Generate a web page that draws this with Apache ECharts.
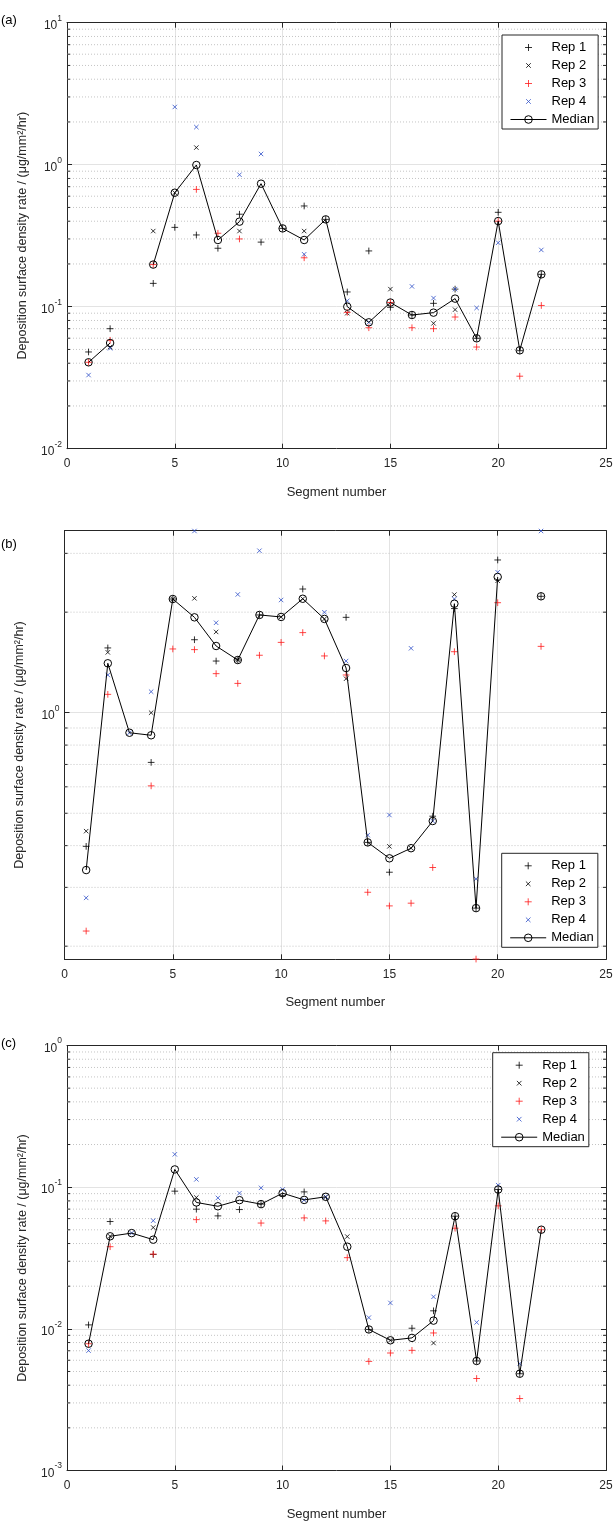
<!DOCTYPE html>
<html><head><meta charset="utf-8">
<script src="https://cdn.jsdelivr.net/npm/echarts@6/dist/echarts.min.js"></script>
<style>html,body{margin:0;padding:0;background:#fff}#c{width:614px;height:1526px}</style>
</head><body><div id="c"></div>
<script>
// ---------------- data ----------------
const segments = [1,2,3,4,5,6,7,8,9,10,11,12,13,14,15,16,17,18,19,20,21,22];
const xTicks = [0,5,10,15,20,25];
const seriesNames = ['Rep 1','Rep 2','Rep 3','Rep 4','Median'];
const panelLabels = ['(a)','(b)','(c)'];
const xAxisTitle = 'Segment number';
const yAxisTitle = 'Deposition surface density rate / (\u03bcg/mm\u00b2/hr)';

// panel (a)
const aRep1 = [0.048,0.070,null,0.146,0.362,0.32,0.258,0.448,0.285,0.356,0.512,0.412,0.127,0.247,0.099,0.0874,0.1056,0.133,0.0599,0.462,0.049,0.169];
const aRep2 = [null,0.052,null,0.341,0.635,1.32,null,0.341,null,null,0.341,null,0.090,null,0.133,null,0.0764,0.0953,null,null,null,null];
const aRep3 = [0.0406,0.058,null,0.198,null,0.67,0.329,0.30,null,null,0.221,null,0.0912,0.0711,0.107,0.0711,0.070,0.0846,0.052,0.40,0.0324,0.102];
const aRep4 = [0.033,0.051,null,null,2.55,1.84,null,0.85,1.19,null,0.234,null,0.110,0.0776,null,0.139,0.115,0.133,0.098,0.282,null,0.251];
const aMedian = [0.0406,0.0555,null,0.198,0.635,0.995,0.295,0.397,0.735,0.356,0.295,0.412,0.100,0.0776,0.107,0.0874,0.0908,0.114,0.0599,0.401,0.0493,0.169];
const aRange = [0.01, 10];

// panel (b)
const bRep1 = [0.398,1.563,null,0.71,2.19,1.654,1.428,1.438,1.962,null,2.346,null,1.93,0.409,0.333,null,0.49,2.05,0.26,2.866,null,2.231];
const bRep2 = [0.442,1.516,null,1.0,2.19,2.2,1.745,1.438,null,1.935,2.194,1.909,1.264,null,0.398,0.393,null,2.257,null,2.484,null,null];
const bRep3 = [0.222,1.135,null,0.604,1.552,1.545,1.309,1.224,1.486,1.624,1.737,1.479,1.297,0.29,0.264,0.269,0.344,1.523,0.183,2.135,null,1.58];
const bRep4 = [0.279,1.297,0.871,1.156,null,3.5,1.859,2.26,3.055,2.175,null,1.999,1.428,0.43,0.494,1.559,0.474,2.19,0.318,2.633,null,3.5];
const bMedian = [0.338,1.406,0.871,0.856,2.19,1.93,1.584,1.438,1.962,1.935,2.194,1.909,1.361,0.409,0.3665,0.393,0.474,2.12,0.26,2.549,null,2.231];
const bRange = [0.1827, 3.507];

// panel (c)
const cRep1 = [0.01066,0.0572,null,0.0335,0.0937,0.0699,0.0627,0.0695,0.0759,0.0871,0.0926,null,null,0.0099,null,0.0101,0.0134,0.0624,0.00593,0.0963,0.00482,null];
const cRep2 = [null,0.045,null,0.0519,null,0.0845,null,null,null,null,null,0.0855,0.0448,null,0.0083,null,0.00794,null,null,null,null,null];
const cRep3 = [0.00785,0.038,null,0.0337,null,0.059,null,null,0.0558,null,0.0607,0.0578,0.0318,0.00589,0.00675,0.00705,0.00935,0.0513,0.00446,0.0738,0.00322,0.0501];
const cRep4 = [0.00702,null,0.0474,0.058,0.1705,0.1135,0.084,0.0907,0.0989,0.0963,0.0813,0.0855,null,0.012,0.01524,null,0.01683,null,0.0111,0.1033,0.00568,null];
const cMedian = [0.00785,0.045,0.0474,0.0426,0.1334,0.078,0.0733,0.081,0.0759,0.0907,0.0813,0.0855,0.038,0.0099,0.0083,0.00863,0.01143,0.0624,0.00593,0.0963,0.00482,0.0501];
const cRange = [0.001, 1];

// ---------------- layout / style ----------------
const FONT = '"Liberation Sans", Arial, Helvetica, sans-serif';
const AX = '#262626';
const panels = [
  {reps:[aRep1,aRep2,aRep3,aRep4], med:aMedian, range:aRange, grid:{left:67, top:22.7, width:539, height:426}, legend:{left:502, top:35}, labelTop:14},
  {reps:[bRep1,bRep2,bRep3,bRep4], med:bMedian, range:bRange, grid:{left:64.5, top:530.7, width:541.5, height:428.6}, legend:{left:501.7, top:853.3}, labelTop:538},
  {reps:[cRep1,cRep2,cRep3,cRep4], med:cMedian, range:cRange, grid:{left:67, top:1045.5, width:539, height:425}, legend:{left:492.7, top:1052.7}, labelTop:1037}
];
const PLUS = 'path://M0,0L0,0M12,12L12,12M2.5,6L9.5,6M6,2.5L6,9.5';
const CROSS = 'path://M0,0L0,0M12,12L12,12M3.7,3.7L8.3,8.3M3.7,8.3L8.3,3.7';
const MEDIAN_ICON = 'path://M0,0L0,0M36,12L36,12M0,6L36,6M14.2,6A3.8,3.8,0,1,1,21.8,6A3.8,3.8,0,1,1,14.2,6';
const repStyles = [
  {symbol:PLUS, color:'#000000'},
  {symbol:CROSS, color:'#000000'},
  {symbol:PLUS, color:'#ff1a1a'},
  {symbol:CROSS, color:'#3050c8'}
];

function minorTicks(lo, hi) {
  const out = [];
  for (let e = Math.floor(Math.log10(lo)); e <= Math.ceil(Math.log10(hi)); e++) {
    for (let k = 2; k <= 9; k++) {
      const v = k * Math.pow(10, e);
      if (v > lo * 1.0001 && v < hi * 0.9999) out.push(v);
    }
  }
  return out;
}
function pairs(arr) { return segments.map((s, i) => [s, arr[i] == null ? null : arr[i]]); }
function scatterPairs(arr) { return segments.map((s, i) => [s, arr[i]]).filter(p => p[1] != null); }
function decadeLabel(v) {
  const l = Math.log10(v);
  const e = Math.round(l);
  if (Math.abs(l - e) > 1e-6) return '';
  return '{b|10}{s|' + e + '}';
}

const option = {
  animation: false,
  backgroundColor: '#fff',
  textStyle: {fontFamily: FONT},
  grid: [], xAxis: [], yAxis: [], series: [], legend: [], graphic: []
};

panels.forEach((p, k) => {
  option.grid.push(Object.assign({outerBoundsMode: 'none', containLabel: false}, p.grid));
  option.xAxis.push({
    type: 'value', gridIndex: k, min: xTicks[0], max: xTicks[xTicks.length - 1], interval: xTicks[1] - xTicks[0],
    position: 'bottom',
    name: xAxisTitle, nameLocation: 'middle', nameGap: 37,
    nameTextStyle: {fontSize: 13, color: AX, fontFamily: FONT},
    axisLine: {show: true, onZero: false, lineStyle: {color: AX, width: 1}},
    axisTick: {show: true, inside: true, length: 5, lineStyle: {color: AX}},
    axisLabel: {show: true, fontSize: 12, color: AX, margin: 9, fontFamily: FONT},
    splitLine: {show: true, lineStyle: {color: '#e3e3e3', width: 1}}
  });
  option.xAxis.push({
    type: 'value', gridIndex: k, min: xTicks[0], max: xTicks[xTicks.length - 1], interval: xTicks[1] - xTicks[0],
    position: 'top',
    axisLine: {show: true, onZero: false, lineStyle: {color: AX, width: 1}},
    axisTick: {show: true, inside: true, length: 5, lineStyle: {color: AX}},
    axisLabel: {show: false}, splitLine: {show: false}
  });
  option.yAxis.push({
    type: 'log', logBase: 10, gridIndex: k, min: p.range[0], max: p.range[1],
    position: 'left',
    name: yAxisTitle, nameLocation: 'middle', nameGap: 38, nameRotate: 90,
    nameTextStyle: {fontSize: 12.5, color: AX, fontFamily: FONT},
    axisLine: {show: true, onZero: false, lineStyle: {color: AX, width: 1}},
    axisTick: {show: true, inside: true, length: 5, lineStyle: {color: AX}},
    axisLabel: {
      show: true, margin: 5, color: AX, formatter: decadeLabel, showMinLabel: true, showMaxLabel: true,
      rich: {
        b: {fontSize: 12, lineHeight: 18, verticalAlign: 'bottom', color: AX, fontFamily: FONT},
        s: {fontSize: 8.5, lineHeight: 10, verticalAlign: 'top', color: AX, fontFamily: FONT}
      }
    },
    splitLine: {show: true, lineStyle: {color: '#e3e3e3', width: 1}}
  });
  option.yAxis.push({
    type: 'log', logBase: 10, gridIndex: k, min: p.range[0], max: p.range[1],
    position: 'right',
    axisLine: {show: true, onZero: false, lineStyle: {color: AX, width: 1}},
    axisTick: {show: true, inside: true, length: 5, lineStyle: {color: AX}},
    axisLabel: {show: false}, splitLine: {show: false}
  });
  const xi = 2 * k, yi = 2 * k;
  option.series.push({
    type: 'custom', xAxisIndex: xi, yAxisIndex: yi, silent: true, z: 1,
    data: minorTicks(p.range[0], p.range[1]).map(v => [xTicks[0], v]),
    renderItem: function (params, api) {
      const cs = params.coordSys;
      const y = api.coord([xTicks[0], api.value(1)])[1];
      return {
        type: 'group',
        children: [
          {type: 'line', shape: {x1: cs.x, y1: y, x2: cs.x + cs.width, y2: y},
           style: {stroke: '#c4c4c4', lineWidth: 1, lineDash: [1, 2]}},
          {type: 'line', shape: {x1: cs.x, y1: y, x2: cs.x + 3, y2: y}, style: {stroke: AX, lineWidth: 1}},
          {type: 'line', shape: {x1: cs.x + cs.width - 3, y1: y, x2: cs.x + cs.width, y2: y}, style: {stroke: AX, lineWidth: 1}}
        ]
      };
    }
  });
  p.reps.forEach((arr, r) => {
    option.series.push({
      type: 'scatter', name: seriesNames[r], xAxisIndex: xi, yAxisIndex: yi, z: 3,
      symbol: repStyles[r].symbol, symbolSize: 11.5,
      itemStyle: {color: 'none', borderColor: repStyles[r].color, borderWidth: 1},
      emphasis: {disabled: true},
      data: scatterPairs(arr)
    });
  });
  option.series.push({
    type: 'line', name: seriesNames[4], xAxisIndex: xi, yAxisIndex: yi, z: 4,
    symbol: 'circle', symbolSize: 7.5, showAllSymbol: true, connectNulls: false,
    itemStyle: {color: 'rgba(0,0,0,0)', borderColor: '#000', borderWidth: 1},
    lineStyle: {color: '#000', width: 1},
    emphasis: {disabled: true},
    data: pairs(p.med)
  });
  const legendData = seriesNames.map((n, r) => r < 4
    ? {name: n, icon: repStyles[r].symbol, itemStyle: {color: 'none', borderColor: repStyles[r].color, borderWidth: 1}}
    : {name: n, icon: MEDIAN_ICON, itemStyle: {color: 'none', borderColor: '#000', borderWidth: 1}});
  option.legend.push({
    orient: 'vertical', left: p.legend.left, top: p.legend.top,
    padding: [4, 4, 1, 6], itemWidth: 36, itemHeight: 12, itemGap: 1,
    backgroundColor: '#fff', borderColor: AX, borderWidth: 1, borderRadius: 0,
    selectedMode: false,
    itemStyle: {borderWidth: 1},
    textStyle: {fontSize: 13, lineHeight: 12, color: '#000', fontFamily: FONT},
    data: legendData
  });
  option.graphic.push({
    type: 'text', left: 1, top: p.labelTop,
    style: {text: panelLabels[k], fontSize: 13, fill: '#000', fontFamily: FONT}
  });
});

const chart = echarts.init(document.getElementById('c'), null, {renderer: 'canvas'});
chart.setOption(option);
</script>
</body></html>
